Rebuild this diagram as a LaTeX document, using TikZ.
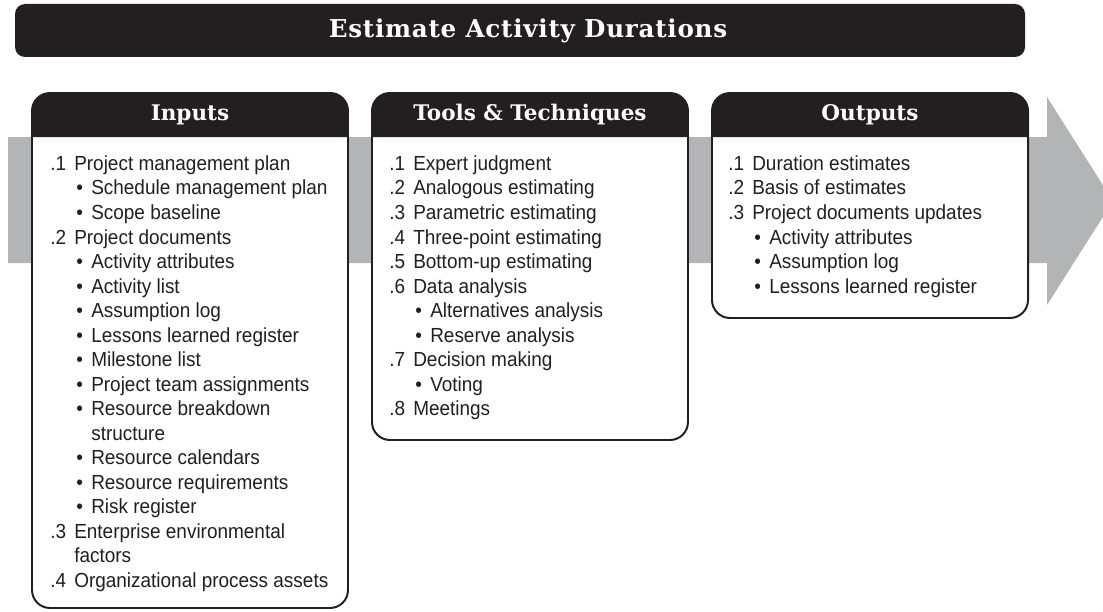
\documentclass[tikz,border=0pt]{standalone}
\usepackage{fontspec}
\newfontfamily\bodyfont{Liberation Sans}[FakeStretch=0.93]
\newfontfamily\headfont{DejaVu Serif}
\newfontfamily\titlefont{DejaVu Serif}[LetterSpace=3]

\definecolor{ink}{RGB}{35,31,32}
\definecolor{bandgray}{RGB}{178,180,182}

% one reference pixel
\newlength\unitpx
\setlength\unitpx{0.025cm}
\newcommand\numitem[2]{\strut\makebox[24\unitpx][l]{#1}#2}
\newcommand\bulitem[1]{\strut\hspace*{26\unitpx}\makebox[15\unitpx][l]{\textbullet}#1}
\newcommand\numcont[1]{\strut\hspace*{24\unitpx}#1}
\newcommand\bulcont[1]{\strut\hspace*{41\unitpx}#1}

\begin{document}
\begin{tikzpicture}[
    x=0.025cm, y=-0.025cm,
    headtext/.style={font={\headfont\bfseries\fontsize{15.3}{17}\selectfont}, text=white},
    titletext/.style={font={\titlefont\bfseries\fontsize{17.5}{19}\selectfont}, text=white},
    listtext/.style={font={\bodyfont\fontsize{14.5}{17.44}\selectfont}, text=ink,
        align=left, inner sep=0pt, anchor=north west},
    boxframe/.style={draw=ink, line width=1.4pt, fill=white, rounded corners=0.45cm},
]
\useasboundingbox (0,0) rectangle (1103,611);
\clip (0,0) rectangle (1103,611);

% === Process arrow behind the boxes ===
\fill[bandgray] (8,137) -- (1047,137) -- (1047,97) -- (1113,201)
    -- (1047,305) -- (1047,263) -- (8,263) -- cycle;

% === Title bar ===
\fill[ink, rounded corners=0.25cm] (15,4) rectangle (1025,57);
\node[titletext] (title) at (528,31) {Estimate Activity Durations};

% === Three boxes: left edge / bottom edge / name / heading ===
\def\boxW{316}
\foreach \bx/\bbot/\bname/\btitle in {32/608/in/Inputs,
        372/440/tt/Tools \& Techniques, 712/318/out/Outputs} {
    \draw[boxframe] (\bx,93) rectangle ({\bx+\boxW},\bbot);
    \fill[ink] (\bx,137) [rounded corners=0.45cm] -- (\bx,93)
        -- ({\bx+\boxW},93) [sharp corners] -- ({\bx+\boxW},137) -- cycle;
    \node[headtext] (\bname-head) at ({\bx+0.5*\boxW},115) {\btitle};
}

% === Inputs ===
\node[listtext] (in-list) at (50,153) {%
    \numitem{.1}{Project management plan}\\
    \bulitem{Schedule management plan}\\
    \bulitem{Scope baseline}\\
    \numitem{.2}{Project documents}\\
    \bulitem{Activity attributes}\\
    \bulitem{Activity list}\\
    \bulitem{Assumption log}\\
    \bulitem{Lessons learned register}\\
    \bulitem{Milestone list}\\
    \bulitem{Project team assignments}\\
    \bulitem{Resource breakdown}\\
    \bulcont{structure}\\
    \bulitem{Resource calendars}\\
    \bulitem{Resource requirements}\\
    \bulitem{Risk register}\\
    \numitem{.3}{Enterprise environmental}\\
    \numcont{factors}\\
    \numitem{.4}{Organizational process assets}};

% === Tools & Techniques ===
\node[listtext] (tt-list) at (389,153) {%
    \numitem{.1}{Expert judgment}\\
    \numitem{.2}{Analogous estimating}\\
    \numitem{.3}{Parametric estimating}\\
    \numitem{.4}{Three-point estimating}\\
    \numitem{.5}{Bottom-up estimating}\\
    \numitem{.6}{Data analysis}\\
    \bulitem{Alternatives analysis}\\
    \bulitem{Reserve analysis}\\
    \numitem{.7}{Decision making}\\
    \bulitem{Voting}\\
    \numitem{.8}{Meetings}};

% === Outputs ===
\node[listtext] (out-list) at (728,153) {%
    \numitem{.1}{Duration estimates}\\
    \numitem{.2}{Basis of estimates}\\
    \numitem{.3}{Project documents updates}\\
    \bulitem{Activity attributes}\\
    \bulitem{Assumption log}\\
    \bulitem{Lessons learned register}};

\end{tikzpicture}
\end{document}
